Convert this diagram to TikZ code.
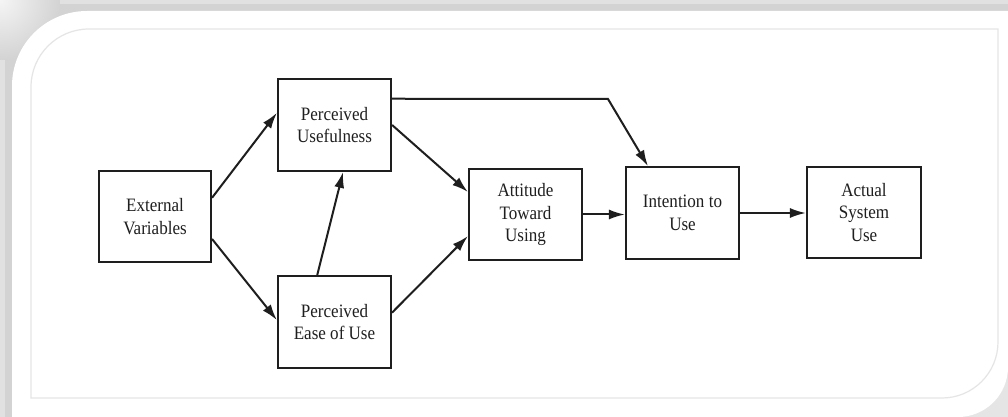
\documentclass[tikz,border=0pt]{standalone}
\usepackage{fontspec}
\setmainfont{Liberation Serif}[FakeStretch=0.9]
\usetikzlibrary{arrows.meta,calc}

\definecolor{bandgray}{HTML}{D3D3D3}
\definecolor{bandlight}{HTML}{E1E1E1}
\definecolor{rimgray}{HTML}{E5E5E5}
\definecolor{ink}{HTML}{1E1E1E}

\tikzset{
  box/.style={draw=ink, line width=1.6pt, fill=white,
    minimum width=84.75pt, minimum height=68.75pt, inner sep=0pt,
    align=center, text=black!88,
    font=\fontsize{14.2}{16.8}\selectfont},
  link/.style={draw=ink, line width=1.5pt,
    -{Latex[length=12pt,width=7.5pt]}},
}

\begin{document}
\begin{tikzpicture}[x=0.75pt,y=0.75pt]
  \useasboundingbox (0,0) rectangle (1008,-417);

  % grey backdrop, lighter towards the top-left corner
  \fill[bandgray] (0,0) rectangle (1008,-417);
  \fill[bandlight] (0,0) rectangle (1008,-4);
  \fill[bandlight] (0,0) rectangle (5,-417);
  \begin{scope}
    \clip (0,0) rectangle (95,-95);
    \shade[inner color=white!96!black, outer color=bandgray] (0,0) circle (60);
  \end{scope}
  \fill[rimgray] (930,-350) rectangle (1008,-417);

  % white panel with two rounded corners
  \fill[white] (12,-417) -- (12,-86) arc[start angle=180, end angle=90, radius=75]
    -- (1008,-11) -- (1008,-367) arc[start angle=0, end angle=-90, radius=50] -- cycle;

  % thin inner rim
  \draw[rimgray, line width=0.9pt] (31,-398) -- (31,-87)
    arc[start angle=180, end angle=90, radius=58]
    -- (998,-29) -- (998,-342) arc[start angle=0, end angle=-90, radius=56] -- cycle;

  % model boxes
  \node[box, minimum width=84pt] (EV)  at (155,-216.5) {External\\Variables};
  \node[box] (PU)  at (334.5,-125)   {Perceived\\Usefulness};
  \node[box] (PEU) at (334.5,-322)   {Perceived\\Ease of Use};
  \node[box] (Att) at (525.5,-214.5) {Attitude\\Toward\\Using};
  \node[box] (Int) at (682.5,-213)   {Intention to\\Use};
  \node[box, minimum width=85.5pt] (Act) at (864,-212.5) {Actual\\System\\Use};

  % connectors
  \draw[link] ($(EV.north east)!0.30!(EV.south east)$) -- ($(PU.north west)!0.37!(PU.south west)$);
  \draw[link] ($(EV.north east)!0.74!(EV.south east)$) -- ($(PEU.north west)!0.48!(PEU.south west)$);
  \draw[link] ($(PEU.north west)!0.35!(PEU.north east)$) -- ($(PU.south west)!0.575!(PU.south east)$);
  \draw[link] (PU.east) -- ($(Att.north west)!0.26!(Att.south west)$);
  \draw[link] ($(PEU.north east)!0.40!(PEU.south east)$) -- ($(Att.north west)!0.73!(Att.south west)$);
  \coordinate (kink) at (608,-99);
  \draw[link] ($(PU.north east)!0.22!(PU.south east)$) -- (kink) -- ($(Int.north west)!0.20!(Int.north east)$);
  \draw[link] (Att.east) -- (Att.east -| Int.west);
  \draw[link] (Int.east) -- (Int.east -| Act.west);
\end{tikzpicture}
\end{document}
